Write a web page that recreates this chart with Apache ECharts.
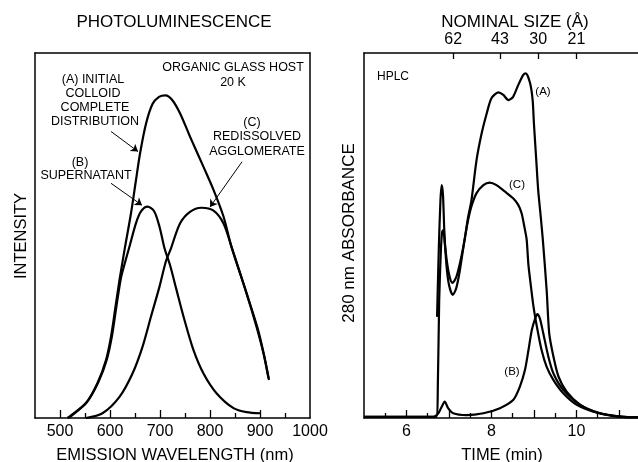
<!DOCTYPE html>
<html><head><meta charset="utf-8">
<script src="https://cdn.jsdelivr.net/npm/echarts@6/dist/echarts.min.js"></script>
<style>html,body{margin:0;padding:0;background:#fff}#c{width:638px;height:462px}</style>
</head><body><div id="c"></div>
<script>
// ---------- Left panel: photoluminescence (wavelength nm, relative intensity 0-100) ----------
var plA_wave = [515,519,552,575,592,602,611,619,629,642,652,660,672,685,698,711,724,740,760,787,807,827,843,873,893,907,917];
var plA_int  = [0,0.4,4.1,9.6,15.9,22.3,30.5,37.8,46.0,56.1,65.2,72.4,80.6,86.0,88.0,88.4,87.2,83.5,77.1,68.8,62.5,55.2,46.9,34.2,25.0,17.7,10.9];
var plB_wave = [516,521,554,577,594,604,613,622,630,639,652,662,675,688,699,709,720,733,747,767,787,813,847,873,900];
var plB_int  = [0,0.4,4.4,9.9,16.2,22.5,30.7,38.4,42.6,47.0,53.4,56.6,57.9,56.7,52.4,46.5,41.9,35.1,27.8,18.6,12.2,6.8,2.7,1.6,1.3];
var plC_wave = [552,585,619,645,665,682,699,712,722,740,760,783,807,827,843,874,895,908,918];
var plC_int  = [0,1.3,5.8,12.2,19.5,27.8,36.0,43.0,46.5,53.3,56.5,57.6,56.8,53.3,46.9,33.8,24.7,17.3,10.4];
var plMajorTicks = [500,600,700,800,900];
var plMinorTicks = [550,650,750,850,950];
var plTickLabels = [500,600,700,800,900,1000];

// ---------- Right panel: HPLC (time min, 280 nm absorbance 0-100) ----------
var hA_time = [5.0,6.70,6.74,6.77,6.81,6.84,6.87,6.90,6.95,7.01,7.08,7.17,7.27,7.37,7.45,7.53,7.65,7.77,7.89,8.00,8.16,8.28,8.40,8.51,8.63,8.75,8.81,8.91,8.97,9.00,9.05,9.10,9.16,9.21,9.30,9.36,9.46,9.58,9.77,10.09,10.48,11.03,11.45];
var hA_abs  = [0.3,0.3,10.4,32.3,46,51,51.5,48,43,39,37,38.5,43,49,55,59.7,70.7,78,83.5,87.6,89.2,88.5,87.1,88.0,91.2,94.0,94.4,91.7,87.1,80.7,71.6,62.5,55.2,48.8,35,23.2,16.8,11.3,7.2,3.6,1.5,0.4,0.2];
var hC_time = [6.72,6.76,6.80,6.83,6.86,6.89,6.94,7.00,7.09,7.17,7.25,7.33,7.43,7.53,7.65,7.81,7.96,8.12,8.32,8.51,8.63,8.71,8.79,8.83,8.87,8.92,8.99,9.07,9.18,9.30,9.46,9.69,10.01,10.40,10.87,11.45];
var hC_abs  = [27.7,46,59.7,63.8,61,51.5,42,36.5,33.7,35.5,40,46,53,58,61.6,63.8,64.5,63.8,62,60.2,58.4,56.1,51.5,48.8,42,37,30.5,25,18.6,14,10.4,6.8,3.6,1.7,0.5,0.2];
var hB_time = [5.0,6.63,6.75,6.83,6.90,6.98,7.10,7.41,7.81,8.20,8.51,8.67,8.79,8.87,8.95,9.03,9.08,9.14,9.22,9.34,9.46,9.69,10.09,10.56,11.03,11.45];
var hB_abs  = [0.3,0.3,1.3,3.1,4.5,2.7,1.3,0.8,1.3,2.7,4.9,8.6,13.2,18.5,24.1,27.3,28.5,27.3,23.2,16.8,12.2,7.7,3.6,1.3,0.4,0.2];
var timeTickLabels = [6,8,10];
var timeMajorTicks = [6,7,8,9,10,11];
var timeMinorTicks = [5.5,6.5,7.5,8.5,9.5,10.5];
var sizeLabels = ['62','43','30','21'];
var sizeTimes  = [7.1,8.2,9.1,10.0];

function pairs(xs, ys){ return xs.map(function(x,i){ return [x, ys[i]]; }); }

var FONT = 'Liberation Sans, Arial, Helvetica, sans-serif';
var BLACK = '#000';
var lineW = 2.2;

function txt(text, x, y, size, extra){
  var o = {type:'text', x:x, y:y, silent:true,
    style:{text:text, fill:BLACK, font:size+'px '+FONT, textAlign:'center', textVerticalAlign:'middle'}};
  if (extra) for (var k in extra) o[k] = extra[k];
  return o;
}

var chart = echarts.init(document.getElementById('c'), null, {renderer:'canvas'});

var axLine = {show:true, onZero:false, lineStyle:{color:BLACK, width:1.5}};
var noTick = {show:false}, noLabel = {show:false}, noSplit = {show:false};
var plain = function(v){ return String(v); };

var option = {
  animation:false,
  backgroundColor:'#fff',
  grid:[
    {left:35, top:53, width:275, height:365},
    {left:364, top:53, width:274, height:365}
  ],
  xAxis:[
    {gridIndex:0, type:'value', min:450, max:1000, position:'bottom', axisLine:axLine,
     axisTick:{show:true, customValues:plMajorTicks, inside:true, length:8, lineStyle:{color:BLACK, width:1.3}},
     axisLabel:{show:true, customValues:plTickLabels, margin:6, fontSize:16, color:BLACK, fontFamily:FONT, formatter:plain},
     splitLine:noSplit},
    {gridIndex:0, type:'value', min:450, max:1000, position:'bottom', axisLine:{show:false},
     axisTick:{show:true, customValues:plMinorTicks, inside:true, length:5, lineStyle:{color:BLACK, width:1.3}},
     axisLabel:noLabel, splitLine:noSplit},
    {gridIndex:0, type:'value', min:450, max:1000, position:'top', axisLine:axLine,
     axisTick:noTick, axisLabel:noLabel, splitLine:noSplit},
    {gridIndex:1, type:'value', min:5, max:11.45, position:'bottom', axisLine:axLine,
     axisTick:{show:true, customValues:timeMajorTicks, inside:true, length:8, lineStyle:{color:BLACK, width:1.3}},
     axisLabel:{show:true, customValues:timeTickLabels, margin:6, fontSize:16, color:BLACK, fontFamily:FONT, formatter:plain},
     splitLine:noSplit},
    {gridIndex:1, type:'value', min:5, max:11.45, position:'bottom', axisLine:{show:false},
     axisTick:{show:true, customValues:timeMinorTicks, inside:true, length:5, lineStyle:{color:BLACK, width:1.3}},
     axisLabel:noLabel, splitLine:noSplit},
    {gridIndex:1, type:'value', min:5, max:11.45, position:'top', axisLine:axLine,
     axisTick:{show:true, customValues:sizeTimes, inside:true, length:6, lineStyle:{color:BLACK, width:1.3}},
     axisLabel:{show:true, customValues:sizeTimes, margin:5, fontSize:16, color:BLACK, fontFamily:FONT,
       formatter:function(v){ var i = sizeTimes.indexOf(v); return i >= 0 ? sizeLabels[i] : ''; }},
     splitLine:noSplit}
  ],
  yAxis:[
    {gridIndex:0, type:'value', min:0, max:100, position:'left', axisLine:axLine, axisTick:noTick, axisLabel:noLabel, splitLine:noSplit},
    {gridIndex:0, type:'value', min:0, max:100, position:'right', axisLine:axLine, axisTick:noTick, axisLabel:noLabel, splitLine:noSplit},
    {gridIndex:1, type:'value', min:0, max:100, position:'left', axisLine:axLine, axisTick:noTick, axisLabel:noLabel, splitLine:noSplit}
  ],
  series:[
    {type:'line', xAxisIndex:0, yAxisIndex:0, data:pairs(plA_wave, plA_int), showSymbol:false, smooth:0.3,
     lineStyle:{color:BLACK, width:lineW}, silent:true,
     markLine:{silent:true, symbol:['none','arrow'], symbolSize:7, label:{show:false},
       lineStyle:{color:BLACK, width:1, type:'solid'},
       data:[
         [{coord:[602,78.5]},{coord:[656,73.0]}],
         [{coord:[602,64.3]},{coord:[664,58.3]}],
         [{coord:[864,70.2]},{coord:[800,57.8]}]
       ]}},
    {type:'line', xAxisIndex:0, yAxisIndex:0, data:pairs(plB_wave, plB_int), showSymbol:false, smooth:0.3,
     lineStyle:{color:BLACK, width:lineW}, silent:true},
    {type:'line', xAxisIndex:0, yAxisIndex:0, data:pairs(plC_wave, plC_int), showSymbol:false, smooth:0.3,
     lineStyle:{color:BLACK, width:lineW}, silent:true},
    {type:'line', xAxisIndex:3, yAxisIndex:2, data:pairs(hA_time, hA_abs), showSymbol:false, smooth:0.25,
     lineStyle:{color:BLACK, width:lineW}, silent:true},
    {type:'line', xAxisIndex:3, yAxisIndex:2, data:pairs(hC_time, hC_abs), showSymbol:false, smooth:0.25,
     lineStyle:{color:BLACK, width:lineW}, silent:true},
    {type:'line', xAxisIndex:3, yAxisIndex:2, data:pairs(hB_time, hB_abs), showSymbol:false, smooth:0.25,
     lineStyle:{color:BLACK, width:lineW}, silent:true}
  ],
  graphic:[
    txt('PHOTOLUMINESCENCE', 174, 22, 17),
    txt('NOMINAL SIZE (Å)', 515, 22, 17),
    txt('ORGANIC GLASS HOST', 233, 68, 12.5),
    txt('20 K', 233, 83, 12.5),
    txt('(A) INITIAL', 93, 80, 12.5),
    txt('COLLOID', 93, 94, 12.5),
    txt('COMPLETE', 95, 108, 12.5),
    txt('DISTRIBUTION', 95, 122, 12.5),
    txt('(B)', 80, 163, 12.5),
    txt('SUPERNATANT', 86, 175.5, 12.5),
    txt('(C)', 252, 123, 12.5),
    txt('REDISSOLVED', 257, 137, 12.5),
    txt('AGGLOMERATE', 257, 152, 12.5),
    txt('HPLC', 393, 77, 12),
    txt('(A)', 543, 92, 11.5),
    txt('(C)', 517, 185, 11.5),
    txt('(B)', 512, 372, 11.5),
    txt('INTENSITY', 21, 236, 16.5, {rotation:Math.PI/2}),
    txt('280 nm ABSORBANCE', 349, 233, 17, {rotation:Math.PI/2}),
    txt('EMISSION WAVELENGTH (nm)', 175, 455, 16.5),
    txt('TIME (min)', 502, 455, 16.5)
  ]
};
chart.setOption(option);
</script></body></html>
